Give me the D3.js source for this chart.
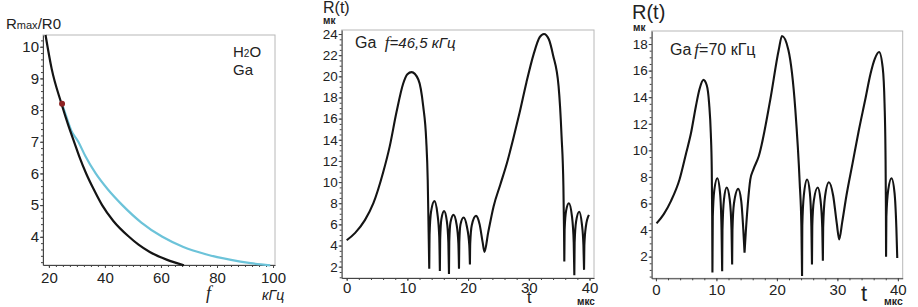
<!DOCTYPE html>
<html>
<head>
<meta charset="utf-8">
<script src="https://cdn.jsdelivr.net/npm/d3@7"></script>
<style>
  body { margin: 0; background: #fff; }
  svg { display: block; font-family: "Liberation Sans", Arial, sans-serif; }
</style>
</head>
<body>
<svg id="chart" width="918" height="307"></svg>
<script>
// ---- left panel: Rmax/R0 vs f ----
const blackF = [18.8, 21, 24.5, 27, 29, 31, 33.3, 36, 39, 43, 48.6, 52, 56, 62, 68.2];
const blackR = [10.37, 9.3, 8.2, 7.5, 7.0, 6.5, 6.0, 5.5, 5.0, 4.5, 4.0, 3.75, 3.52, 3.28, 3.1];
const cyanF = [24.7, 26, 28, 30.5, 33, 36.7, 41, 46.2, 53, 60.5, 68, 76, 85, 92, 99];
const cyanR = [8.2, 7.85, 7.35, 7.0, 6.55, 6.0, 5.5, 5.0, 4.45, 4.0, 3.68, 3.45, 3.27, 3.17, 3.1];
const dotF = 24.7, dotR = 8.2;
const leftXTicks = [20, 40, 60, 80, 100];
const leftYTicks = [4, 5, 6, 7, 8, 9, 10];

// ---- middle panel: R(t), Ga, f = 46,5 kHz ----
const ga46T = [0, 1.4, 3.0, 4.4, 6.0, 7.1, 8.2, 9.3, 10.0, 10.7, 11.8, 12.6, 13.1, 13.35, 13.5, 13.6,
  13.65, 13.9, 14.45, 14.95, 15.25, 15.35,
  15.4, 15.6, 16.05, 16.5, 16.75, 16.85,
  16.9, 17.1, 17.6, 18.1, 18.4, 18.5,
  18.55, 18.75, 19.25, 19.8, 20.2, 20.3,
  20.35, 20.6, 21.3, 21.9, 22.4, 22.7,
  23.3, 24.2, 25.3, 26.4, 27.4, 28.5, 29.6, 30.8, 31.8, 32.5, 33.3, 34.0, 34.9, 35.4, 35.7, 35.8, 35.85,
  35.9, 36.15, 36.6, 37.1, 37.4, 37.5,
  37.55, 37.8, 38.3, 38.75, 39.0, 39.1,
  39.15, 39.4, 39.9];
const ga46R = [4.5, 5.2, 6.4, 8.0, 10.9, 13.4, 16.6, 19.3, 20.2, 20.4, 19.7, 17.2, 14.0, 10.2, 5.2, 1.8,
  5.0, 7.2, 8.2, 7.0, 4.8, 1.6,
  4.6, 6.5, 7.25, 6.3, 4.3, 1.3,
  4.4, 6.2, 6.9, 6.0, 4.2, 1.8,
  4.3, 6.0, 6.65, 5.8, 4.0, 2.2,
  4.2, 5.9, 6.8, 6.0, 4.3, 3.4,
  5.2, 7.7, 9.75, 11.8, 14.0, 16.6, 19.4, 22.1, 23.7, 24.0, 23.5, 22.0, 19.1, 14.3, 9.6, 5.5, 2.5,
  5.5, 7.3, 8.0, 6.8, 4.3, 1.2,
  4.3, 6.3, 7.2, 6.0, 4.0, 1.7,
  4.0, 5.8, 6.9];
const midXTicks = [0, 10, 20, 30, 40];
const midYTicks = [2, 4, 6, 8, 10, 12, 14, 16, 18, 20, 22, 24];

// ---- right panel: R(t), Ga, f = 70 kHz ----
const ga70T = [0.1, 1.3, 2.5, 3.9, 5.0, 5.8, 6.6, 7.2, 7.85, 8.4, 8.8, 9.07, 9.23, 9.3, 9.34,
  9.4, 9.65, 10.15, 10.6, 10.85, 10.95,
  11.0, 11.25, 11.7, 12.2, 12.5, 12.6,
  12.65, 12.9, 13.6, 14.1, 14.45, 14.65,
  14.85, 15.2, 15.6, 16.1, 17.0, 18.9, 20.3, 20.84, 21.9, 23.05, 23.77, 24.05, 24.16,
  24.2, 24.45, 25.0, 25.45, 25.7, 25.8,
  25.85, 26.1, 26.75, 27.2, 27.5, 27.6,
  27.65, 27.95, 28.6, 29.3, 29.9, 30.3,
  30.8, 31.5, 32.5, 33.5, 34.6, 35.5, 36.2, 36.9, 37.5, 37.8, 37.95, 38.02, 38.05,
  38.1, 38.4, 38.95, 39.45, 39.75, 39.9];
const ga70R = [4.5, 5.2, 6.2, 7.8, 9.8, 11.3, 13.3, 14.6, 15.3, 14.9, 13.5, 11.3, 8.6, 5.0, 0.8,
  5.0, 7.0, 7.9, 6.8, 4.0, 0.9,
  4.0, 6.3, 7.2, 6.3, 4.0, 1.4,
  4.0, 6.0, 7.1, 6.2, 4.0, 2.3,
  3.8, 6.0, 7.8, 8.55, 9.55, 13.8, 17.55, 18.6, 17.55, 13.05, 7.55, 4.3, 0.55,
  4.3, 6.6, 7.8, 6.8, 4.3, 1.4,
  4.3, 6.2, 7.2, 6.3, 4.2, 1.7,
  4.2, 6.5, 7.6, 6.6, 4.5, 3.3,
  4.6, 6.6, 9.0, 11.4, 13.8, 15.8, 16.9, 17.4, 16.2, 13.5, 10.0, 6.0, 2.0,
  5.0, 7.0, 7.9, 6.8, 4.2, 1.9];
const rightXTicks = [0, 10, 20, 30, 40];
const rightYTicks = [2, 4, 6, 8, 10, 12, 14, 16, 18];

const svg = d3.select('#chart');

// split a series into arches at the sharp (deep) minima so each arch
// can be smoothed on its own and the cusps stay sharp
function arches(ts, rs) {
    const pts = ts.map((t, i) => [t, rs[i]]);
    const out = [];
    let cur = [pts[0]];
    for (let i = 1; i < pts.length; i++) {
        cur.push(pts[i]);
        const isCusp = i < pts.length - 1 && rs[i] < rs[i - 1] && rs[i] < rs[i + 1] && rs[i] < 3;
        if (isCusp) {
            out.push(cur);
            cur = [pts[i]];
        }
    }
    out.push(cur);
    return out;
}

function drawPanel(p) {
    const x = d3.scaleLinear().domain(p.xDomain).range([p.left, p.right]);
    const y = d3.scaleLinear().domain(p.yDomain).range([p.bottom, p.top]);
    const g = svg.append('g');

    // light frame
    g.append('rect')
        .attr('x', p.left).attr('y', p.top)
        .attr('width', p.right - p.left).attr('height', p.bottom - p.top)
        .attr('fill', 'none').attr('stroke', '#b8b8b8').attr('stroke-width', 1);

    // minor ticks
    const minorX = d3.range(Math.ceil(p.xDomain[0] / p.xMinor) * p.xMinor, p.xDomain[1], p.xMinor);
    const minorY = d3.range(Math.ceil(p.yDomain[0] / p.yMinor) * p.yMinor, p.yDomain[1], p.yMinor);
    g.append('g')
        .attr('transform', `translate(0,${p.bottom})`)
        .call(d3.axisBottom(x).tickValues(minorX).tickSize(2).tickFormat(''))
        .call(a => a.select('.domain').remove());
    g.append('g')
        .attr('transform', `translate(${p.left},0)`)
        .call(d3.axisLeft(y).tickValues(minorY).tickSize(2).tickFormat(''))
        .call(a => a.select('.domain').remove());

    // major axes
    const xAxis = g.append('g')
        .attr('transform', `translate(0,${p.bottom})`)
        .call(d3.axisBottom(x).tickValues(p.xTicks).tickSizeInner(3).tickSizeOuter(0).tickPadding(p.xPad));
    const yAxis = g.append('g')
        .attr('transform', `translate(${p.left},0)`)
        .call(d3.axisLeft(y).tickValues(p.yTicks).tickSizeInner(3).tickSizeOuter(0).tickPadding(1));

    [xAxis, yAxis].forEach(a => {
        a.select('.domain').attr('stroke', '#444');
        a.selectAll('text').attr('fill', '#222').style('font-family', '"Liberation Sans", Arial, sans-serif');
    });
    xAxis.selectAll('text').style('font-size', p.xFont + 'px');
    yAxis.selectAll('text').style('font-size', p.yFont + 'px');
    g.selectAll('g.tick line').attr('stroke', '#444');

    return { g, x, y };
}

// ---------- left panel ----------
const left = drawPanel({
    left: 43, right: 275, top: 35, bottom: 265,
    xDomain: [17.9, 100.7], yDomain: [3.11, 10.37],
    xTicks: leftXTicks, yTicks: leftYTicks,
    xMinor: 2.5, yMinor: 0.2, xPad: 4.5, xFont: 15, yFont: 15
});

const lineL = d3.line().x(d => left.x(d[0])).y(d => left.y(d[1])).curve(d3.curveMonotoneX);
left.g.append('path')
    .attr('d', lineL(cyanF.map((f, i) => [f, cyanR[i]])))
    .attr('fill', 'none').attr('stroke', '#6cc3d9').attr('stroke-width', 2.2);
left.g.append('path')
    .attr('d', lineL(blackF.map((f, i) => [f, blackR[i]])))
    .attr('fill', 'none').attr('stroke', '#141414').attr('stroke-width', 2.2);
left.g.append('circle')
    .attr('cx', left.x(dotF)).attr('cy', left.y(dotR)).attr('r', 3)
    .attr('fill', '#8e2323');

const lt = svg.append('text').attr('x', 6).attr('y', 29).attr('fill', '#222').style('font-size', '15px');
lt.append('tspan').text('R');
lt.append('tspan').style('font-size', '11px').text('max');
lt.append('tspan').text('/R0');

const h2o = svg.append('text').attr('x', 233).attr('y', 57).attr('fill', '#222').style('font-size', '15px');
h2o.append('tspan').text('H');
h2o.append('tspan').style('font-size', '10px').text('2');
h2o.append('tspan').text('O');
svg.append('text').attr('x', 233).attr('y', 75).attr('fill', '#222').style('font-size', '15px').text('Ga');

svg.append('text').attr('x', 206).attr('y', 299).attr('fill', '#222')
    .style('font-family', '"Liberation Serif", serif').style('font-style', 'italic').style('font-size', '18px').text('f');
svg.append('text').attr('x', 262).attr('y', 300).attr('fill', '#222')
    .style('font-style', 'italic').style('font-size', '14px').text('кГц');

// ---------- middle panel ----------
const mid = drawPanel({
    left: 341.7, right: 594, top: 30, bottom: 278,
    xDomain: [-0.82, 40.74], yDomain: [0.93, 24.38],
    xTicks: midXTicks, yTicks: midYTicks,
    xMinor: 2, yMinor: 0.5, xPad: 1.5, xFont: 15, yFont: 13.5
});
const lineM = d3.line().x(d => mid.x(d[0])).y(d => mid.y(d[1])).curve(d3.curveMonotoneX);
mid.g.append('path')
    .attr('d', arches(ga46T, ga46R).map(lineM).join(''))
    .attr('fill', 'none').attr('stroke', '#141414').attr('stroke-width', 2.1)
    .attr('stroke-linejoin', 'round');

svg.append('text').attr('x', 323).attr('y', 13).attr('fill', '#222').style('font-size', '16px').text('R(t)');
svg.append('text').attr('x', 323).attr('y', 24).attr('fill', '#222').style('font-size', '10px').style('font-weight', 'bold').text('мк');
const m1 = svg.append('text').attr('x', 355).attr('y', 48).attr('fill', '#222').style('font-size', '16px');
m1.append('tspan').text('Ga ');
m1.append('tspan').attr('dx', 4).style('font-family', '"Liberation Serif", serif').style('font-style', 'italic').style('font-size', '17px').text('f');
m1.append('tspan').style('font-style', 'italic').style('font-size', '15px').text('=46,5 кГц');
svg.append('text').attr('x', 527).attr('y', 303).attr('fill', '#222').style('font-size', '16px').text('t');
svg.append('text').attr('x', 577).attr('y', 305).attr('fill', '#222').style('font-size', '10px').style('font-weight', 'bold').text('мкс');

// ---------- right panel ----------
const right = drawPanel({
    left: 651.7, right: 902.7, top: 31, bottom: 278.3,
    xDomain: [-0.7, 40.8], yDomain: [0.37, 18.98],
    xTicks: rightXTicks, yTicks: rightYTicks,
    xMinor: 2, yMinor: 0.5, xPad: 3, xFont: 15, yFont: 13.5
});
const lineR = d3.line().x(d => right.x(d[0])).y(d => right.y(d[1])).curve(d3.curveMonotoneX);
right.g.append('path')
    .attr('d', arches(ga70T, ga70R).map(lineR).join(''))
    .attr('fill', 'none').attr('stroke', '#141414').attr('stroke-width', 2.1)
    .attr('stroke-linejoin', 'round');

svg.append('text').attr('x', 632).attr('y', 19).attr('fill', '#222').style('font-size', '20px').text('R(t)');
svg.append('text').attr('x', 633).attr('y', 31).attr('fill', '#222').style('font-size', '10px').style('font-weight', 'bold').text('мк');
const r1 = svg.append('text').attr('x', 670).attr('y', 55).attr('fill', '#222').style('font-size', '16px');
r1.append('tspan').text('Ga');
r1.append('tspan').attr('dx', 3).style('font-family', '"Liberation Serif", serif').style('font-style', 'italic').style('font-size', '17px').text('f');
r1.append('tspan').text('=70 кГц');
svg.append('text').attr('x', 861).attr('y', 301).attr('fill', '#222').style('font-size', '22px').text('t');
svg.append('text').attr('x', 884).attr('y', 305).attr('fill', '#222').style('font-size', '10.5px').style('font-weight', 'bold').text('мкс');
</script>
</body>
</html>
